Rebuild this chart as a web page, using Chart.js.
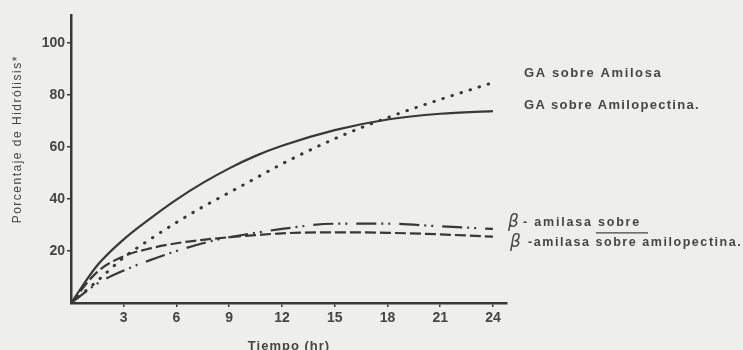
<!DOCTYPE html>
<html><head><meta charset="utf-8">
<script src="https://cdn.jsdelivr.net/npm/chart.js@4/dist/chart.umd.min.js"></script>
<style>html,body{margin:0;padding:0;background:#eeeeec;}#wrap{width:743px;height:350px;position:relative;}</style>
</head><body><div id="wrap"><canvas id="c" width="743" height="350"></canvas></div>
<script>
// ---- data ----
const hours = [0, 1.5, 3, 4.5, 6, 7.5, 9, 10.5, 12, 15, 18, 21, 24];
const gaAmilosa = [0, 8.5, 17.5, 24.5, 31, 37, 42.5, 48, 53.5, 63.2, 71.3, 78.3, 84.8];
const gaAmilopectina = [0, 14.5, 24.5, 32.5, 39.8, 46.2, 51.8, 56.6, 60.5, 66.5, 70.6, 72.8, 73.8];
const betaAmilosa = [0, 7.5, 12.5, 16.5, 20, 23, 25.3, 27, 28.5, 30.5, 30.5, 29.5, 28.5];
const betaAmilopectina = [0, 12, 18, 21, 23, 24.3, 25.3, 26.1, 26.8, 27.2, 27, 26.4, 25.5];
const xTicks = [3, 6, 9, 12, 15, 18, 21, 24];
const yTicks = [20, 40, 60, 80, 100];
const seriesNames = ['GA sobre Amilosa', 'GA sobre Amilopectina.', '- amilasa sobre', ' -amilasa sobre amilopectina.'];
const seriesLabelValues = [88.5, 76.2, 30.8, 23.3];
const xTitle = 'Tiempo (hr)';
const yTitle = 'Porcentaje de Hidrólisis*';

const INK = '#383838';
const TXT = '#454545';
const FAM = '"Liberation Sans", Arial, sans-serif';
const pts = arr => hours.map((h, i) => ({x: h, y: arr[i]}));

const bgPlugin = {
  id: 'bg',
  beforeDraw(chart) {
    const c = chart.ctx; c.save(); c.fillStyle = '#eeeeec';
    c.fillRect(0, 0, chart.width, chart.height); c.restore();
  }
};

const textPlugin = {
  id: 'texts',
  afterDraw(chart) {
    const c = chart.ctx, ys = chart.scales.y, xs = chart.scales.x, ca = chart.chartArea;
    c.save();
    c.fillStyle = TXT;
    c.textBaseline = 'middle';
    // y title
    c.save();
    c.translate(18, ys.getPixelForValue(63));
    c.rotate(-Math.PI / 2);
    c.textAlign = 'center';
    c.font = '12px ' + FAM;
    c.letterSpacing = '1.5px';
    c.fillText(yTitle, 0, 0);
    c.restore();
    // x title
    c.textAlign = 'center';
    c.font = 'bold 13px ' + FAM;
    c.letterSpacing = '1px';
    c.fillText(xTitle, xs.getPixelForValue(12.4), 346);
    // series labels
    c.textAlign = 'left';
    c.font = 'bold 13px ' + FAM;
    c.letterSpacing = '1.6px';
    const x0 = ca.right + 17;
    c.fillText(seriesNames[0], x0, ys.getPixelForValue(seriesLabelValues[0]));
    c.letterSpacing = '1.3px';
    c.fillText(seriesNames[1], x0, ys.getPixelForValue(seriesLabelValues[1]));
    // beta labels
    const bx = ca.right + 1;
    for (let k = 2; k < 4; k++) {
      const y = ys.getPixelForValue(seriesLabelValues[k]);
      c.font = 'italic 17px "DejaVu Sans", sans-serif';
      c.letterSpacing = '0px';
      c.fillText('β', bx + (k === 3 ? 2 : 0), y);
      c.font = 'bold 12.5px ' + FAM;
      c.letterSpacing = k === 2 ? '1.8px' : '1.55px';
      c.fillText(seriesNames[k], bx + 15, y);
    }
    // underline under "sobre"
    c.strokeStyle = TXT; c.lineWidth = 1.3;
    const uy = ys.getPixelForValue(seriesLabelValues[2]) + 10;
    c.beginPath(); c.moveTo(bx + 88, uy); c.lineTo(bx + 140, uy); c.stroke();
    c.restore();
  }
};

new Chart(document.getElementById('c'), {
  type: 'line',
  data: {
    datasets: [
      {label: seriesNames[0], data: pts(gaAmilosa), borderColor: INK, borderWidth: 3,
       borderDash: [0.5, 9], borderCapStyle: 'round'},
      {label: seriesNames[1], data: pts(gaAmilopectina), borderColor: INK, borderWidth: 2.2},
      {label: seriesNames[2], data: pts(betaAmilosa), borderColor: INK, borderWidth: 2.2,
       borderDash: [20, 5, 2, 5, 2, 9]},
      {label: seriesNames[3], data: pts(betaAmilopectina), borderColor: INK, borderWidth: 2.2,
       borderDash: [11, 4]}
    ]
  },
  options: {
    responsive: false,
    animation: false,
    events: [],
    layout: {padding: {left: 0, right: 236, top: 15, bottom: 0}},
    elements: {point: {radius: 0}, line: {cubicInterpolationMode: 'monotone', fill: false}},
    plugins: {legend: {display: false}, tooltip: {enabled: false}},
    scales: {
      x: {
        type: 'linear', min: 0, max: 24.8,
        afterBuildTicks: a => { a.ticks = xTicks.map(v => ({value: v})); },
        afterFit: a => { a.height = 47; },
        grid: {display: true, drawOnChartArea: false, drawTicks: true, tickLength: 4, color: INK, lineWidth: 1.5},
        border: {display: true, color: INK, width: 2.5},
        ticks: {color: TXT, padding: 3, maxRotation: 0, font: {size: 14, family: FAM, weight: 'bold'}}
      },
      y: {
        type: 'linear', min: 0, max: 110.8,
        afterBuildTicks: a => { a.ticks = yTicks.map(v => ({value: v})); },
        afterFit: a => { a.width = 71; },
        grid: {display: true, drawOnChartArea: false, drawTicks: true, tickLength: 4, color: INK, lineWidth: 1.5},
        border: {display: true, color: INK, width: 2.5},
        ticks: {color: TXT, padding: 2, font: {size: 14, family: FAM, weight: 'bold'}}
      }
    }
  },
  plugins: [bgPlugin, textPlugin]
});
</script></body></html>
